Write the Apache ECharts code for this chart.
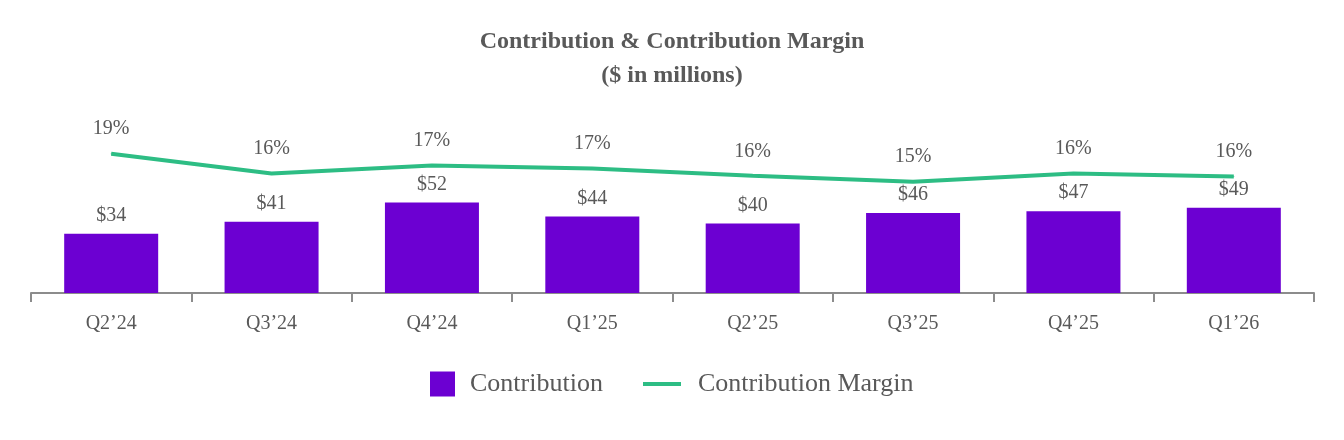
<!DOCTYPE html>
<html>
<head>
<meta charset="utf-8">
<script src="https://cdn.jsdelivr.net/npm/echarts@6/dist/echarts.min.js"></script>
<style>
  html, body { margin: 0; padding: 0; background: #fff; }
  #main { width: 1344px; height: 440px; }
</style>
</head>
<body>
<div id="main"></div>
<script>
// quarters
var quarters = ['Q2\u201924', 'Q3\u201924', 'Q4\u201924', 'Q1\u201925', 'Q2\u201925', 'Q3\u201925', 'Q4\u201925', 'Q1\u201926'];
// contribution, $M
var contribution = [34, 41, 52, 44, 40, 46, 47, 49];
// contribution margin, % (labels are rounded)
var margin = [18.9, 16.2, 17.3, 16.9, 15.9, 15.1, 16.2, 15.8];

var grey = '#595959';
var serif = 'Liberation Serif, Times New Roman, serif';

var chart = echarts.init(document.getElementById('main'));
chart.setOption({
    animation: false,
    title: {
        text: 'Contribution & Contribution Margin\n($ in millions)',
        left: 'center',
        top: 20,
        textStyle: {
            color: grey,
            fontFamily: serif,
            fontWeight: 'bold',
            fontSize: 24,
            lineHeight: 34
        }
    },
    grid: {
        left: 31,
        right: 30,
        top: 119,
        bottom: 147
    },
    legend: [{
        data: ['Contribution'],
        icon: 'rect',
        left: 425,
        top: 366,
        itemWidth: 25,
        itemHeight: 25,
        textStyle: { color: grey, fontFamily: serif, fontSize: 26, padding: [0, 0, 0, 10] }
    }, {
        data: ['Contribution Margin'],
        icon: 'rect',
        left: 638,
        top: 366,
        itemWidth: 38,
        itemHeight: 4,
        textStyle: { color: grey, fontFamily: serif, fontSize: 26, padding: [0, 0, 0, 12] }
    }],
    xAxis: {
        type: 'category',
        data: quarters,
        axisLine: { lineStyle: { color: '#8c8c8c', width: 2 } },
        axisTick: { show: true, length: 9, lineStyle: { color: '#8c8c8c', width: 2 } },
        axisLabel: {
            color: grey,
            fontFamily: serif,
            fontSize: 20,
            margin: 21
        }
    },
    yAxis: [{
        type: 'value',
        min: 0,
        max: 100,
        show: false,
        splitLine: { show: false }
    }, {
        type: 'value',
        min: 0,
        max: 23.6,
        show: false,
        splitLine: { show: false }
    }],
    series: [{
        name: 'Contribution',
        type: 'bar',
        data: contribution,
        barWidth: 94,
        itemStyle: { color: '#6c00d2' },
        label: {
            show: true,
            position: 'top',
            distance: 8,
            color: grey,
            fontFamily: serif,
            fontSize: 20,
            formatter: function (p) { return '$' + p.value; }
        }
    }, {
        name: 'Contribution Margin',
        type: 'line',
        yAxisIndex: 1,
        data: margin,
        symbol: 'circle',
        symbolSize: 1,
        itemStyle: { color: '#2dbd84' },
        lineStyle: { color: '#2dbd84', width: 4 },
        label: {
            show: true,
            position: 'top',
            distance: 14,
            color: grey,
            fontFamily: serif,
            fontSize: 20,
            formatter: function (p) { return Math.round(p.value) + '%'; }
        }
    }]
});
</script>
</body>
</html>
